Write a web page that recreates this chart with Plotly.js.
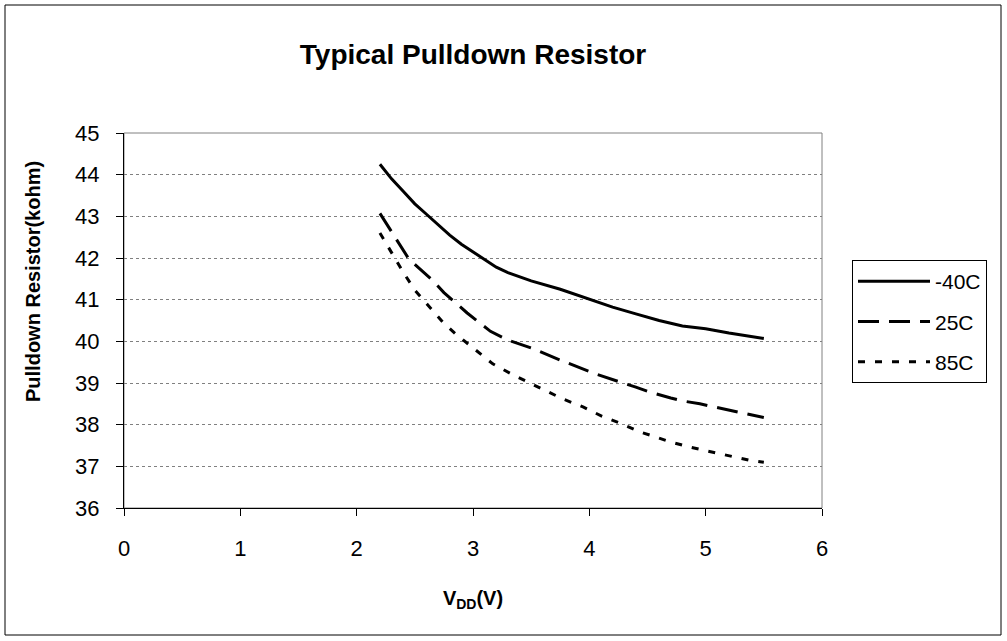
<!DOCTYPE html>
<html>
<head>
<meta charset="utf-8">
<script src="https://cdn.plot.ly/plotly-3.0.1.min.js"></script>
<style>
html,body{margin:0;padding:0;background:#fff;}
#chart{width:1007px;height:641px;}
</style>
</head>
<body>
<div id="chart"></div>
<script>
// Data
const seriesNames = ["-40C", "25C", "85C"];

const xMinus40 = [2.2, 2.3, 2.4, 2.5, 2.6, 2.7, 2.8, 2.9, 3.0, 3.1, 3.2, 3.3, 3.5, 3.75, 4.0, 4.2, 4.4, 4.6, 4.8, 5.0, 5.2, 5.5];
const yMinus40 = [44.25, 43.9, 43.6, 43.3, 43.05, 42.8, 42.55, 42.33, 42.15, 41.95, 41.78, 41.65, 41.45, 41.25, 41.02, 40.82, 40.66, 40.5, 40.37, 40.3, 40.2, 40.07];

const x25 = [2.2, 2.3, 2.45, 2.65, 2.75, 2.95, 3.05, 3.15, 3.3, 3.5, 3.75, 4.05, 4.4, 4.5, 4.7, 4.8, 4.95, 5.2, 5.5];
const y25 = [43.07, 42.62, 41.97, 41.47, 41.17, 40.68, 40.45, 40.24, 40.03, 39.84, 39.55, 39.22, 38.9, 38.8, 38.64, 38.57, 38.5, 38.35, 38.17];

const x85 = [2.2, 2.3, 2.4, 2.5, 2.63, 2.74, 2.85, 3.04, 3.17, 3.34, 3.5, 3.77, 3.95, 4.11, 4.26, 4.44, 4.52, 4.68, 4.85, 5.01, 5.19, 5.37, 5.5];
const y85 = [42.6, 42.12, 41.66, 41.23, 40.8, 40.46, 40.18, 39.74, 39.46, 39.2, 38.98, 38.62, 38.42, 38.2, 38.04, 37.82, 37.75, 37.6, 37.47, 37.37, 37.25, 37.15, 37.1];

const xTicks = [0, 1, 2, 3, 4, 5, 6];
const yTicks = [36, 37, 38, 39, 40, 41, 42, 43, 44, 45];

const chartTitle = "Typical Pulldown Resistor";
const xTitle = "V<sub>DD</sub>(V)";
const yTitle = "Pulldown Resistor(kohm)";

const font = "Liberation Sans, Arial, sans-serif";

const traces = [
  {x: xMinus40, y: yMinus40, name: seriesNames[0], legendgroup: "a", mode: "lines", type: "scatter",
   line: {color: "#000", width: 3, dash: "solid"}},
  {x: x25, y: y25, name: seriesNames[1], legendgroup: "b", mode: "lines", type: "scatter",
   line: {color: "#000", width: 3, dash: "21px,10px"}},
  {x: x85, y: y85, name: seriesNames[2], legendgroup: "c", mode: "lines", type: "scatter",
   line: {color: "#000", width: 3, dash: "7px,10px"}}
];

const layout = {
  width: 1007, height: 641,
  margin: {l: 124, r: 185, t: 133, b: 133},
  paper_bgcolor: "#fff", plot_bgcolor: "#fff",
  font: {family: font, color: "#000", size: 22},
  title: {text: "<b>" + chartTitle + "</b>", font: {family: font, size: 28, color: "#000"},
          xref: "paper", x: 0.5, xanchor: "center", yref: "container", y: 1 - 54/641, yanchor: "middle"},
  xaxis: {
    range: [0, 6], tickvals: xTicks, ticktext: xTicks.map(String),
    showgrid: false, zeroline: false, showline: true, linecolor: "#000", linewidth: 1,
    ticks: "outside", ticklen: 7, tickcolor: "#000", tickfont: {size: 22, family: font},
    ticklabelstandoff: 14,
    title: {text: "<b>" + xTitle + "</b>", font: {size: 20, family: font}, standoff: 30}
  },
  yaxis: {
    range: [36, 45], tickvals: yTicks, ticktext: yTicks.map(String),
    showgrid: true, gridcolor: "#808080", griddash: "dot", gridwidth: 1,
    zeroline: false, showline: true, linecolor: "#000", linewidth: 1,
    ticks: "outside", ticklen: 7, tickcolor: "#000", tickfont: {size: 22, family: font},
    ticklabelstandoff: 12
  },
  annotations: [
    {text: "<b>" + yTitle + "</b>", xref: "paper", yref: "paper",
     x: (33 - 124) / 698, y: (508 - 282) / 375, xanchor: "center", yanchor: "middle",
     textangle: -90, showarrow: false, font: {size: 20, family: font, color: "#000"}}
  ],
  legend: {
    x: (852 - 124) / 698, y: (508 - 260) / 375, xanchor: "left", yanchor: "top",
    bordercolor: "#000", borderwidth: 1, bgcolor: "#fff",
    font: {size: 21, family: font}, tracegroupgap: 10, traceorder: "grouped",
    itemwidth: 72
  },
  shapes: [
    {type: "rect", xref: "paper", yref: "paper", x0: 0, x1: 1, y0: 0, y1: 1,
     line: {color: "#808080", width: 1}, layer: "below"},
    {type: "rect", xref: "paper", yref: "paper", x0: (5 - 124) / 698, x1: (1001 - 124) / 698,
     y0: (508 - 635) / 375, y1: (508 - 5) / 375,
     line: {color: "#000", width: 1}}
  ],
  showlegend: true
};

Plotly.newPlot("chart", traces, layout, {staticPlot: true, displayModeBar: false});
</script>
</body>
</html>
